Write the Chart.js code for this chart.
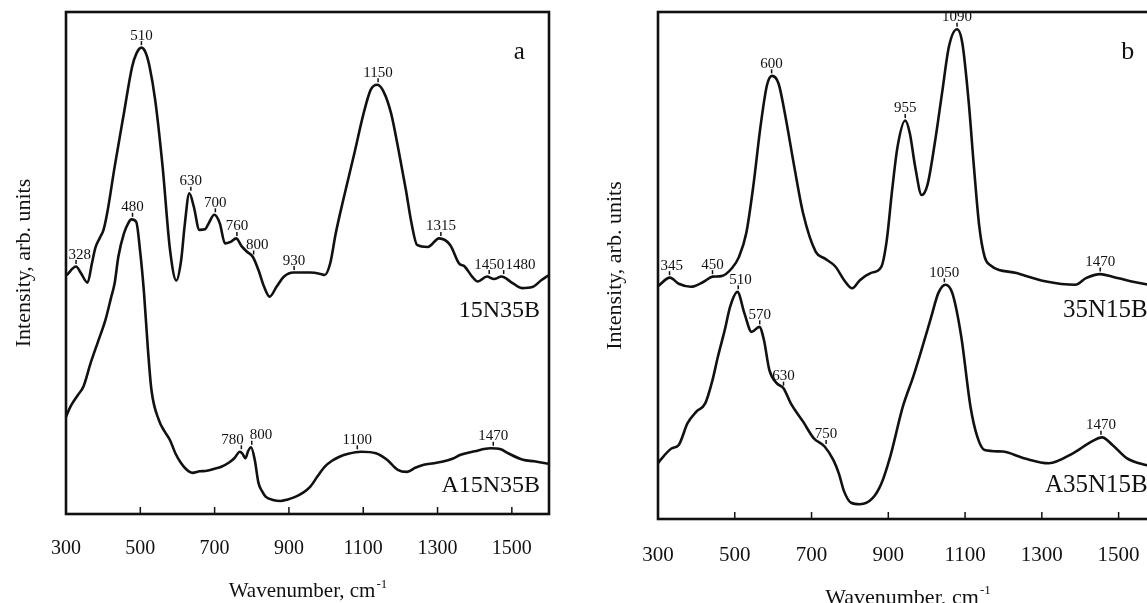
<!DOCTYPE html>
<html>
<head>
<meta charset="utf-8">
<script src="https://cdn.jsdelivr.net/npm/chart.js@4.4.0/dist/chart.umd.min.js"></script>
<style>
  html, body { margin: 0; padding: 0; background: #fff; overflow: hidden; width: 1147px; height: 603px; }
  .panel { position: absolute; top: 0; }
  #boxA { left: 0; width: 560px; height: 603px; }
  #boxB { left: 590px; width: 580px; height: 620px; }
</style>
</head>
<body>
<div class="panel" id="boxA"><canvas id="chartA"></canvas></div>
<div class="panel" id="boxB"><canvas id="chartB"></canvas></div>
<script>
const xTicks = [300, 500, 700, 900, 1100, 1300, 1500];

// panel a, 15N35B
const wnA1 = [302, 327, 340, 358, 370, 379, 391, 401, 411, 431, 456, 478, 490, 503, 515, 525, 540, 560, 580, 597,
  610, 619, 632, 644, 659, 674, 684, 699, 714, 728, 743, 758, 773, 788, 803, 818, 833, 848, 867, 887,
  912, 957, 986, 996, 1011, 1026, 1046, 1076, 1101, 1120, 1138, 1155, 1175, 1195, 1215, 1230, 1245, 1274, 1304, 1334,
  1358, 1373, 1393, 1408, 1433, 1452, 1472, 1502, 1527, 1555, 1580, 1600];
const intA1 = [47.6, 49.3, 48.0, 46.1, 50.0, 53.0, 55.0, 56.6, 60.0, 69.2, 79.9, 89.1, 91.8, 92.9, 91.8, 89.1, 82.5, 69.2, 52.6, 46.5,
  50.6, 57.2, 63.9, 61.2, 56.6, 56.7, 57.9, 59.6, 57.9, 53.9, 54.2, 54.9, 53.3, 52.2, 51.2, 48.6, 45.3, 43.3, 45.3, 47.3,
  48.1, 48.1, 47.8, 47.6, 49.9, 55.9, 62.5, 71.8, 79.8, 84.5, 85.5, 84.1, 79.8, 72.5, 64.5, 57.9, 53.6, 53.2, 54.9, 53.6,
  49.9, 49.3, 47.3, 46.3, 47.3, 46.8, 47.3, 46.0, 45.0, 45.2, 46.6, 47.6];

// panel a, A15N35B
const wnA2 = [300, 312, 332, 347, 366, 386, 406, 421, 431, 441, 456, 468, 476, 489, 500, 510, 520, 530, 550, 565,
  580, 595, 610, 625, 640, 660, 679, 700, 718, 740, 753, 768, 775, 783, 790, 798, 808, 818, 828, 838,
  857, 877, 897, 917, 937, 957, 977, 996, 1016, 1036, 1060, 1094, 1134, 1164, 1193, 1218, 1240, 1263, 1290, 1312,
  1340, 1362, 1400, 1442, 1470, 1490, 1530, 1560, 1600];
const intA2 = [19.4, 21.4, 23.7, 25.4, 30.0, 34.3, 38.6, 43.0, 46.0, 51.3, 55.9, 58.0, 58.7, 58.2, 52.0, 44.0, 33.3, 24.7, 18.7, 16.5,
  14.7, 12.0, 10.1, 8.8, 8.2, 8.5, 8.6, 9.0, 9.4, 10.3, 11.1, 12.4, 12.0, 11.1, 12.5, 13.3, 10.8, 6.2, 4.5, 3.4,
  2.8, 2.6, 2.9, 3.4, 4.2, 5.4, 7.5, 9.4, 10.6, 11.4, 12.0, 12.4, 12.1, 10.8, 8.8, 8.4, 9.2, 9.8, 10.1, 10.4,
  11.0, 11.8, 12.5, 13.1, 12.9, 12.1, 10.8, 10.5, 10.0];

// panel b, 35N15B
const wnB1 = [300, 331, 354, 386, 419, 442, 465, 493, 511, 530, 548, 567, 584, 597, 614, 632, 655, 678, 711, 734,
  762, 785, 806, 826, 854, 882, 896, 910, 924, 944, 956, 970, 987, 1002, 1021, 1040, 1058, 1079, 1093, 1109,
  1123, 1137, 1151, 1165, 1234, 1308, 1387, 1415, 1452, 1484, 1531, 1572, 1600];
const intB1 = [45.9, 47.6, 46.4, 45.8, 46.8, 47.8, 47.9, 49.5, 51.7, 56.4, 65.5, 77.4, 85.6, 87.4, 85.9, 79.4, 69.5, 60.3, 52.7, 51.4,
  49.8, 47.1, 45.5, 47.1, 48.5, 49.8, 55.0, 64.9, 73.4, 78.6, 76.1, 69.5, 63.9, 65.9, 74.1, 84.0, 93.2, 96.6, 93.8, 82.6,
  69.5, 57.7, 51.7, 50.1, 48.5, 46.9, 46.2, 47.5, 48.3, 47.8, 46.9, 46.3, 46.0];

// panel b, A35N15B
const wnB2 = [300, 306, 335, 354, 377, 400, 423, 442, 456, 474, 488, 507, 525, 544, 564, 576, 590, 609, 627, 646,
  678, 706, 734, 757, 771, 785, 803, 826, 859, 882, 905, 938, 965, 989, 1012, 1030, 1049, 1067, 1090, 1114,
  1132, 1151, 1197, 1253, 1318, 1382, 1428, 1457, 1484, 1521, 1568, 1600];
const intB2 = [11.0, 11.6, 13.9, 14.6, 18.9, 21.2, 22.8, 27.4, 32.0, 37.3, 41.9, 44.8, 40.6, 36.9, 37.9, 35.3, 29.4, 26.8, 25.8, 22.8,
  19.2, 15.9, 14.3, 11.6, 9.0, 5.4, 3.2, 2.9, 4.1, 7.0, 12.3, 22.2, 28.1, 34.0, 39.9, 44.5, 46.2, 44.5, 36.0, 22.2,
  16.2, 13.6, 13.3, 12.0, 11.0, 13.0, 15.2, 16.1, 14.6, 12.0, 10.7, 10.3];

// peak marks: text, wavenumber, intensity at the mark, text shift (cm-1)
const peaksA = [
  { t: '328', x: 327, y: 49.3, dx: 10 }, { t: '510', x: 503, y: 92.9 }, { t: '630', x: 636, y: 63.9 },
  { t: '700', x: 702, y: 59.6 }, { t: '760', x: 760, y: 54.9 }, { t: '800', x: 805, y: 51.2, dx: 10 },
  { t: '930', x: 914, y: 48.1 }, { t: '1150', x: 1140, y: 85.5 }, { t: '1315', x: 1309, y: 54.9 },
  { t: '1450', x: 1439, y: 47.3 }, { t: '1480', x: 1478, y: 47.3, dx: 45 }, { t: '480', x: 479, y: 58.7 },
  { t: '780', x: 772, y: 12.4, dx: -24 }, { t: '800', x: 800, y: 13.3, dx: 25 },
  { t: '1100', x: 1084, y: 12.4 }, { t: '1470', x: 1450, y: 13.1 }
];
const peaksB = [
  { t: '345', x: 330, y: 47.6, dx: 6 }, { t: '450', x: 442, y: 47.8 }, { t: '510', x: 509, y: 44.8, dx: 6 },
  { t: '600', x: 596, y: 87.4 }, { t: '955', x: 944, y: 78.6 }, { t: '1090', x: 1079, y: 96.6 },
  { t: '1050', x: 1046, y: 46.2 }, { t: '1470', x: 1452, y: 48.3 }, { t: '570', x: 565, y: 37.9 },
  { t: '630', x: 627, y: 25.8 }, { t: '750', x: 738, y: 14.3 }, { t: '1470', x: 1454, y: 16.1 }
];
const namesA = [{ t: '15N35B', x: 1576, y: 39.3 }, { t: 'A15N35B', x: 1576, y: 4.3 }];
const namesB = [{ t: '35N15B', x: 1576, y: 39.9 }, { t: 'A35N15B', x: 1576, y: 5.4 }];

const serif = "'Liberation Serif', 'Times New Roman', serif";
const ink = '#111';

function toPoints(xs, ys) {
  return xs.map((x, i) => ({ x: x, y: ys[i] }));
}

function decor(cfg) {
  return {
    id: 'decor',
    afterDatasetsDraw(chart) {
      const ctx = chart.ctx;
      const sx = chart.scales.x, sy = chart.scales.y;
      const area = chart.chartArea;
      ctx.save();
      ctx.strokeStyle = ink;
      ctx.fillStyle = ink;

      ctx.lineWidth = 2.6;
      ctx.strokeRect(area.left, area.top, area.right - area.left, area.bottom - area.top);

      ctx.lineWidth = 1.5;
      xTicks.forEach(v => {
        if (v <= sx.min) return;
        const px = sx.getPixelForValue(v);
        ctx.beginPath();
        ctx.moveTo(px, area.bottom);
        ctx.lineTo(px, area.bottom - 7);
        ctx.stroke();
      });

      ctx.font = cfg.peakSize + 'px ' + serif;
      ctx.textAlign = 'center';
      ctx.textBaseline = 'alphabetic';
      cfg.peaks.forEach(p => {
        const px = sx.getPixelForValue(p.x), py = sy.getPixelForValue(p.y);
        ctx.beginPath();
        ctx.moveTo(px, py - 2.5);
        ctx.lineTo(px, py - 6.5);
        ctx.stroke();
        ctx.fillText(p.t, sx.getPixelForValue(p.x + (p.dx || 0)), py - 8);
      });

      ctx.font = cfg.nameSize + 'px ' + serif;
      ctx.textAlign = 'right';
      cfg.names.forEach(n => ctx.fillText(n.t, sx.getPixelForValue(n.x), sy.getPixelForValue(n.y)));

      ctx.font = cfg.letterSize + 'px ' + serif;
      ctx.textAlign = 'center';
      ctx.fillText(cfg.letter, sx.getPixelForValue(cfg.letterX), sy.getPixelForValue(90.7));

      // x title with superscript
      const main = 'Wavenumber, cm', sup = '-1';
      ctx.font = cfg.titleSize + 'px ' + serif;
      const w1 = ctx.measureText(main).width;
      ctx.font = Math.round(cfg.titleSize * 0.6) + 'px ' + serif;
      const w2 = ctx.measureText(sup).width;
      const x0 = (area.left + area.right) / 2 - (w1 + w2) / 2;
      ctx.textAlign = 'left';
      ctx.font = cfg.titleSize + 'px ' + serif;
      ctx.fillText(main, x0, cfg.titleY);
      ctx.font = Math.round(cfg.titleSize * 0.6) + 'px ' + serif;
      ctx.fillText(sup, x0 + w1 + 1, cfg.titleY - cfg.titleSize * 0.45);
      ctx.restore();
    }
  };
}

function makeChart(id, series, opt) {
  return new Chart(document.getElementById(id), {
    type: 'line',
    data: {
      datasets: series.map(s => ({
        data: s,
        borderColor: ink,
        borderWidth: 2.6,
        pointRadius: 0,
        fill: false,
        cubicInterpolationMode: 'monotone'
      }))
    },
    options: {
      responsive: true,
      maintainAspectRatio: false,
      animation: false,
      layout: { padding: { top: 12, right: opt.padRight, left: 0, bottom: 0 } },
      plugins: { legend: { display: false }, tooltip: { enabled: false } },
      scales: {
        x: {
          type: 'linear',
          min: 300,
          max: 1600,
          afterBuildTicks(s) { s.ticks = xTicks.map(v => ({ value: v })); },
          afterFit(s) { s.height = opt.xHeight; },
          grid: { display: false, drawTicks: false },
          border: { display: false },
          ticks: {
            font: { family: serif, size: opt.tickSize },
            color: ink,
            padding: opt.tickPad,
            maxRotation: 0,
            autoSkip: false,
            callback: v => String(v)
          }
        },
        y: {
          min: 0,
          max: 100,
          afterFit(s) { s.width = opt.yWidth; },
          grid: { display: false, drawTicks: false },
          border: { display: false },
          ticks: { display: false },
          title: {
            display: true,
            text: 'Intensity, arb. units',
            color: ink,
            font: { family: serif, size: 22 },
            padding: { top: opt.yTitlePad, bottom: 0 }
          }
        }
      }
    },
    plugins: [decor(opt)]
  });
}

makeChart('chartA', [toPoints(wnA1, intA1), toPoints(wnA2, intA2)], {
  padRight: 11, xHeight: 89, yWidth: 66, tickSize: 20, tickPad: 23, yTitlePad: 11,
  peaks: peaksA, names: namesA, peakSize: 15, nameSize: 24, letter: 'a', letterX: 1520, letterSize: 25,
  titleSize: 21, titleY: 597
});
makeChart('chartB', [toPoints(wnB1, intB1), toPoints(wnB2, intB2)], {
  padRight: 13, xHeight: 101, yWidth: 68, tickSize: 21, tickPad: 24, yTitlePad: 12,
  peaks: peaksB, names: namesB, peakSize: 15, nameSize: 25, letter: 'b', letterX: 1524, letterSize: 26,
  titleSize: 22, titleY: 604
});
</script>
</body>
</html>
